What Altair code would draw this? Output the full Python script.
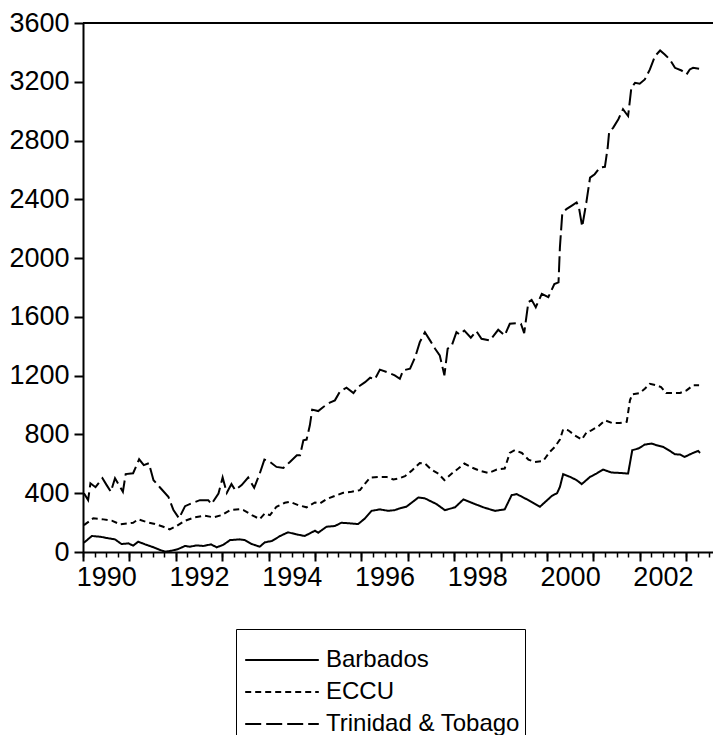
import altair as alt
import pandas as pd

# ---- data (decimal year, value) ----
barbados_t = [1990.02, 1990.19, 1990.37, 1990.55, 1990.69, 1990.83, 1990.98, 1991.08, 1991.19, 1991.34,
              1991.52, 1991.66, 1991.77, 1991.91, 1992.05, 1992.20, 1992.30, 1992.45, 1992.59, 1992.76,
              1992.88, 1993.02, 1993.17, 1993.38, 1993.49, 1993.64, 1993.81, 1993.92, 1994.07, 1994.25,
              1994.42, 1994.60, 1994.78, 1994.89, 1995.00, 1995.07, 1995.25, 1995.43, 1995.57, 1995.75,
              1995.93, 1996.08, 1996.22, 1996.40, 1996.58, 1996.72, 1996.83, 1996.97, 1997.23, 1997.37,
              1997.62, 1997.80, 1998.02, 1998.20, 1998.38, 1998.63, 1998.88, 1999.09, 1999.24, 1999.35,
              1999.60, 1999.85, 2000.10, 2000.22, 2000.28, 2000.35, 2000.50, 2000.64, 2000.75, 2000.93,
              2001.07, 2001.21, 2001.39, 2001.57, 2001.75, 2001.84, 2001.97, 2002.11, 2002.26, 2002.36,
              2002.51, 2002.65, 2002.76, 2002.87, 2002.97, 2003.12, 2003.26, 2003.30]
barbados_v = [63, 109, 104, 93, 86, 54, 59, 43, 70, 52,
              32, 14, 2, 9, 20, 41, 36, 45, 41, 52,
              32, 48, 81, 86, 81, 54, 36, 66, 75, 109,
              134, 120, 109, 127, 145, 131, 172, 177, 199, 195,
              190, 229, 280, 290, 280, 285, 297, 308, 371, 365,
              326, 285, 304, 358, 335, 304, 280, 290, 387, 394,
              353, 308, 380, 401, 443, 530, 511, 489, 462, 511,
              534, 561, 541, 538, 534, 693, 704, 731, 738, 727,
              715, 688, 665, 663, 647, 670, 688, 674]

eccu_t = [1990.02, 1990.22, 1990.44, 1990.62, 1990.80, 1990.98, 1991.08, 1991.19, 1991.37, 1991.55,
          1991.73, 1991.87, 1992.02, 1992.20, 1992.41, 1992.63, 1992.81, 1992.99, 1993.17, 1993.38,
          1993.46, 1993.64, 1993.81, 1993.92, 1994.03, 1994.17, 1994.35, 1994.46, 1994.64, 1994.82,
          1995.00, 1995.11, 1995.25, 1995.43, 1995.61, 1995.79, 1995.97, 1996.08, 1996.19, 1996.36,
          1996.54, 1996.69, 1996.80, 1996.94, 1997.08, 1997.26, 1997.37, 1997.51, 1997.66, 1997.79,
          1997.95, 1998.09, 1998.22, 1998.38, 1998.56, 1998.74, 1998.92, 1999.09, 1999.20, 1999.31,
          1999.46, 1999.60, 1999.74, 1999.92, 2000.06, 2000.17, 2000.28, 2000.35, 2000.46, 2000.60,
          2000.75, 2000.86, 2000.96, 2001.11, 2001.25, 2001.40, 2001.57, 2001.72, 2001.79, 2001.84,
          2002.00, 2002.11, 2002.22, 2002.36, 2002.46, 2002.57, 2002.72, 2002.87, 2003.01, 2003.15,
          2003.28]
eccu_v = [183, 229, 222, 213, 188, 195, 199, 222, 204, 190,
          172, 154, 177, 213, 236, 247, 236, 251, 285, 292,
          285, 251, 224, 263, 251, 308, 335, 342, 319, 304,
          337, 331, 360, 382, 403, 410, 421, 466, 507, 511,
          511, 494, 500, 516, 552, 606, 602, 561, 534, 489,
          534, 568, 602, 575, 552, 538, 561, 568, 674, 693,
          674, 629, 613, 620, 681, 715, 765, 835, 828, 794,
          765, 817, 828, 856, 896, 878, 878, 885, 1032, 1073,
          1082, 1111, 1145, 1134, 1123, 1082, 1082, 1082, 1100, 1134,
          1134]

tt_t = [1990.02, 1990.11, 1990.16, 1990.27, 1990.42, 1990.51, 1990.60, 1990.69, 1990.86, 1990.92,
        1991.08, 1991.21, 1991.31, 1991.42, 1991.52, 1991.66, 1991.84, 1991.95, 1992.07, 1992.20,
        1992.34, 1992.52, 1992.70, 1992.77, 1992.92, 1993.01, 1993.10, 1993.20, 1993.28, 1993.42,
        1993.56, 1993.69, 1993.81, 1993.91, 1994.03, 1994.17, 1994.32, 1994.46, 1994.61, 1994.68,
        1994.75, 1994.82, 1994.89, 1994.94, 1995.07, 1995.18, 1995.32, 1995.43, 1995.54, 1995.68,
        1995.83, 1995.93, 1996.08, 1996.19, 1996.29, 1996.40, 1996.55, 1996.72, 1996.83, 1996.90,
        1997.05, 1997.16, 1997.26, 1997.37, 1997.48, 1997.59, 1997.69, 1997.79, 1997.86, 1997.95,
        1998.05, 1998.12, 1998.22, 1998.36, 1998.48, 1998.59, 1998.77, 1998.95, 1999.09, 1999.20,
        1999.35, 1999.44, 1999.51, 1999.60, 1999.67, 1999.76, 1999.89, 2000.03, 2000.16, 2000.25,
        2000.28, 2000.33, 2000.42, 2000.53, 2000.64, 2000.69, 2000.76, 2000.85, 2000.93, 2001.03,
        2001.14, 2001.25, 2001.31, 2001.34, 2001.43, 2001.54, 2001.64, 2001.72, 2001.75, 2001.82,
        2001.90, 2002.00, 2002.11, 2002.22, 2002.33, 2002.44, 2002.54, 2002.65, 2002.76, 2002.90,
        2003.01, 2003.08, 2003.15, 2003.28]
tt_v = [400, 353, 468, 441, 502, 455, 410, 502, 410, 530,
        536, 631, 591, 604, 489, 439, 376, 285, 229, 312,
        331, 353, 353, 326, 398, 507, 403, 462, 421, 455,
        507, 437, 534, 629, 613, 579, 572, 613, 659, 659,
        760, 765, 862, 969, 959, 987, 1016, 1032, 1093, 1118,
        1082, 1123, 1156, 1186, 1175, 1241, 1224, 1202, 1179, 1236,
        1247, 1326, 1428, 1496, 1440, 1383, 1338, 1202, 1383, 1406,
        1496, 1480, 1507, 1458, 1503, 1451, 1440, 1512, 1473, 1553,
        1557, 1553, 1489, 1700, 1716, 1666, 1757, 1734, 1824, 1835,
        2073, 2300, 2334, 2356, 2379, 2345, 2214, 2379, 2548, 2571,
        2616, 2621, 2752, 2854, 2888, 2945, 3013, 2979, 2967, 3159,
        3193, 3187, 3216, 3284, 3375, 3413, 3386, 3352, 3295, 3277,
        3250, 3284, 3295, 3288]

series_names = ["Barbados", "ECCU", "Trinidad & Tobago"]
y_ticks = [0, 400, 800, 1200, 1600, 2000, 2400, 2800, 3200, 3600]
major_years = list(range(1990, 2004))
quarter_ticks = [1990 + q / 4 for q in range(0, 4 * 14)]
label_pos = [1990.5, 1992.5, 1994.5, 1996.5, 1998.5, 2000.5, 2002.5]

rows = []
for name, ts, vs in [(series_names[0], barbados_t, barbados_v),
                     (series_names[1], eccu_t, eccu_v),
                     (series_names[2], tt_t, tt_v)]:
    for t, v in zip(ts, vs):
        rows.append({"t": t, "value": v, "series": name})
df = pd.DataFrame(rows)

FONT = "Liberation Sans"
W, H = 630, 529
xscale = alt.Scale(domain=[1990, 2003.58], nice=False, zero=False)
yscale = alt.Scale(domain=[0, 3600], nice=False)

y_axis = alt.Axis(values=y_ticks, format="d", tickSize=9, grid=False, labelFontSize=27, labelFont=FONT,
                  labelColor="black", labelPadding=5, domainColor="black", tickColor="black",
                  domainWidth=2, tickWidth=2, labelFlush=False, title=None)

lines = alt.Chart(df).mark_line(color="black", strokeWidth=2).encode(
    x=alt.X("t:Q", scale=xscale, title=None,
            axis=alt.Axis(values=major_years, tickSize=9, labels=False, grid=False, orient="bottom",
                          domainColor="black", tickColor="black", domainWidth=2, tickWidth=2)),
    y=alt.Y("value:Q", scale=yscale, title=None, axis=y_axis),
    strokeDash=alt.StrokeDash(
        "series:N", sort=series_names,
        scale=alt.Scale(domain=series_names, range=[[1, 0], [6, 4], [16, 5]]),
        legend=alt.Legend(title=" ", titleFontSize=1, titlePadding=8,
                          orient="none", legendX=153, legendY=606, direction="vertical",
                          symbolType="M-2.3,0H2.3", symbolSize=1024, symbolStrokeWidth=2,
                          symbolStrokeColor="black", symbolOffset=24, labelOffset=27,
                          labelFontSize=24, labelFont=FONT, labelColor="black", labelLimit=400,
                          padding=5, strokeColor="black", fillColor="white", rowPadding=3)),
)

minor = alt.Chart(df).mark_point(opacity=0).encode(
    x=alt.X("t:Q", scale=xscale, title=None,
            axis=alt.Axis(values=quarter_ticks, tickSize=5, labels=False, domain=False, grid=False,
                          orient="bottom", tickColor="black", tickWidth=1.5)),
)

labels = alt.Chart(df).mark_point(opacity=0).encode(
    x=alt.X("t:Q", scale=xscale, title=None,
            axis=alt.Axis(values=label_pos, ticks=False, domain=False, grid=False, orient="bottom",
                          labelExpr="floor(datum.value)", labelFontSize=27, labelFont=FONT,
                          labelColor="black", labelPadding=12, labelFlush=False, labelOverlap=False)),
)

top = alt.Chart(pd.DataFrame({"y": [3600]})).mark_rule(color="black", strokeWidth=2).encode(
    y=alt.Y("y:Q", scale=yscale, title=None, axis=y_axis)
)

chart = alt.layer(lines, minor, labels, top).resolve_scale(x="shared").resolve_axis(
    x="independent"
).properties(
    width=W, height=H,
    autosize=alt.AutoSizeParams(type="none"),
    padding={"left": 75, "top": 15, "right": 0, "bottom": 183},
).configure_view(stroke=None)

chart.save("out.html", embed_options={"renderer": "svg", "actions": False})
